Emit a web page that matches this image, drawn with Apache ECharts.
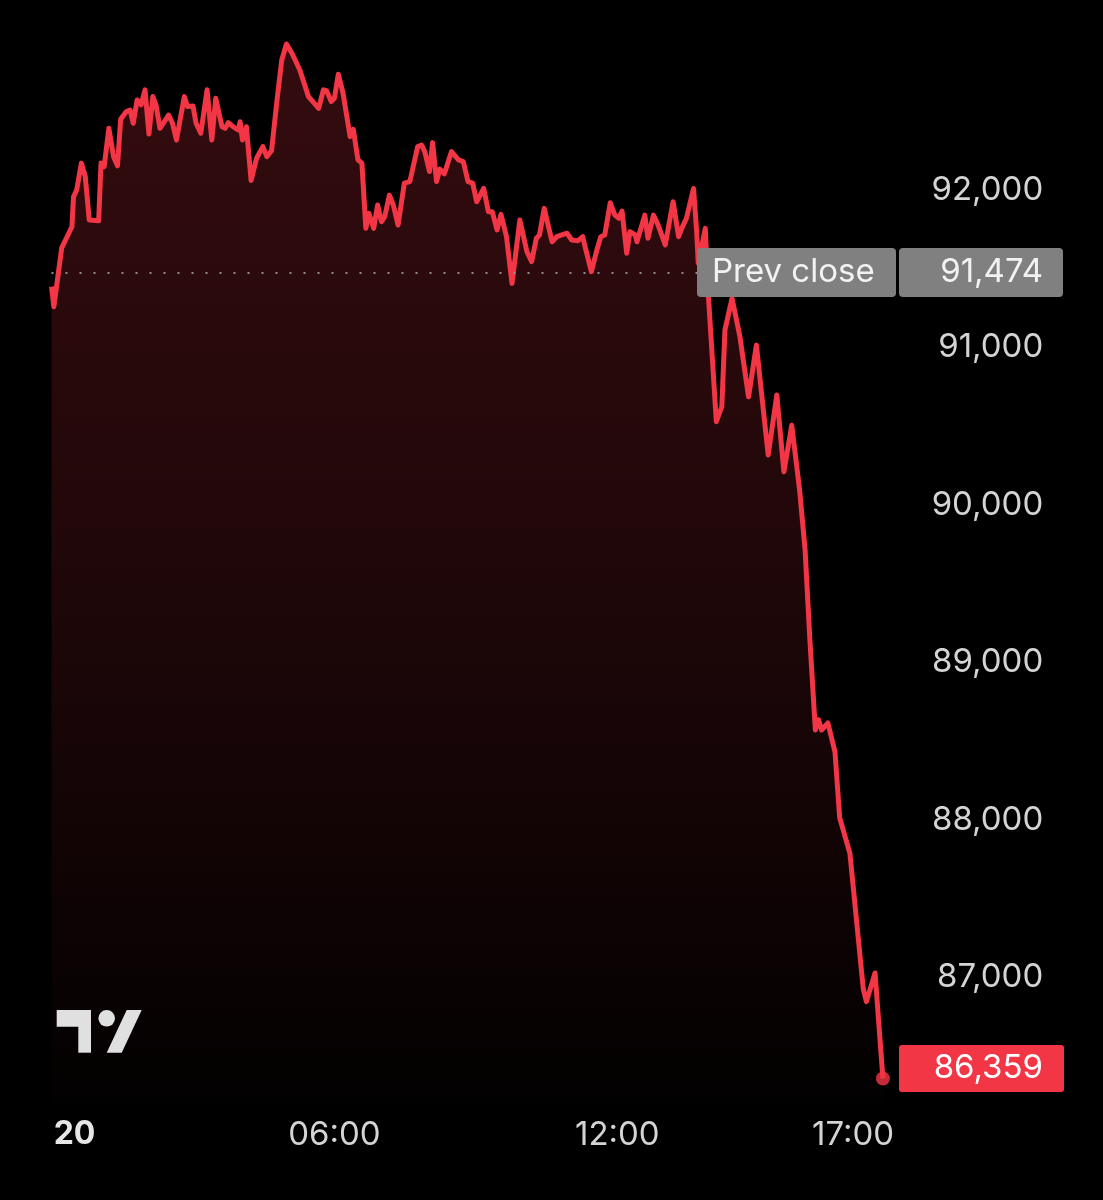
<!DOCTYPE html>
<html>
<head>
<meta charset="utf-8">
<script src="https://cdn.jsdelivr.net/npm/echarts@6/dist/echarts.min.js"></script>
<style>
html, body { margin: 0; background: #000; }
#chart { width: 1103px; height: 1200px; }
</style>
</head>
<body>
<div id="chart"></div>
<script>
// minutes after midnight (day 20) and price
var times = [
  0, 3, 13, 26, 28, 32, 38, 43, 48, 60, 63, 67, 73, 79, 84, 88, 95, 100, 104, 109,
  114, 119, 124, 129, 133, 138, 149, 154, 159, 169, 173, 180, 184, 190, 198, 204, 209, 217, 221, 225,
  231, 238, 240, 243, 248, 254, 261, 269, 274, 280, 287, 293, 299, 306, 316, 327, 340, 346, 350, 356,
  360, 365, 371, 380, 384, 390, 395, 400, 404, 410, 415, 420, 424, 430, 435, 441, 449, 456, 466, 471,
  475, 481, 485, 490, 494, 500, 509, 518, 524, 530, 536, 541, 550, 556, 561, 567, 572, 579, 586, 596,
  605, 611, 617, 621, 627, 637, 643, 656, 662, 670, 676, 680, 687, 694, 699, 704, 711, 717, 722, 726,
  732, 736, 743, 745, 755, 759, 766, 772, 781, 791, 798, 802, 808, 817, 821, 823, 832, 836, 846, 853,
  857, 866, 876, 887, 897, 912, 923, 932, 942, 952, 959, 965, 972, 976, 980, 988, 997, 1003, 1016, 1033,
  1037, 1048, 1058
];
var prices = [
  91384, 91257, 91630, 91764, 91954, 91997, 92168, 92083, 91807, 91802, 92168, 92146, 92389, 92209, 92151, 92446, 92494, 92505, 92421, 92569,
  92538, 92633, 92353, 92590, 92538, 92389, 92473, 92421, 92315, 92590, 92527, 92531, 92421, 92358, 92633, 92315, 92580, 92399, 92389, 92425,
  92399, 92378, 92431, 92315, 92399, 92058, 92199, 92273, 92209, 92247, 92569, 92822, 92924, 92865, 92759, 92590, 92516, 92633, 92628, 92559,
  92580, 92732, 92612, 92336, 92383, 92189, 92168, 91754, 91849, 91754, 91902, 91796, 91828, 91965, 91902, 91775, 92041, 92051, 92273, 92283,
  92241, 92115, 92298, 92051, 92130, 92100, 92241, 92189, 92178, 92051, 92041, 91923, 92007, 91859, 91859, 91744, 91843, 91701, 91405, 91807,
  91606, 91543, 91691, 91712, 91881, 91669, 91701, 91723, 91680, 91676, 91701, 91617, 91479, 91617, 91701, 91712, 91916, 91838, 91818, 91864,
  91596, 91733, 91712, 91669, 91838, 91691, 91838, 91775, 91649, 91923, 91701, 91754, 91818, 92007, 91733, 91533, 91754, 91320, 90527, 90622,
  91110, 91310, 91067, 90685, 91013, 90316, 90696, 90210, 90505, 90094, 89712, 89149, 88571, 88637, 88571, 88615, 88432, 88013, 87788, 86928,
  86847, 87029, 86359
];
var prevClose = 91474;
var priceTicks = [87000, 88000, 89000, 90000, 91000, 92000];
var timeTicks = [0, 360, 720, 1020];
var dayLabel = '20';
var prevCloseText = 'Prev close';

var RED = '#f23645';
var FONT = 'Inter, "Noto Sans", sans-serif';

function fmtPrice(v) {
  return Number(v).toLocaleString('en-US');
}
function fmtTime(v) {
  if (v === 0) return '{d|' + dayLabel + '}';
  var h = Math.floor(v / 60), m = v % 60;
  return (h < 10 ? '0' : '') + h + ':' + (m < 10 ? '0' : '') + m;
}

var chart = echarts.init(document.getElementById('chart'));

var option = {
  backgroundColor: '#000',
  animation: false,
  grid: {
    left: 51.5,
    right: 202.8,
    top: 32,
    bottom: 96.4,
    outerBoundsMode: 'none'
  },
  xAxis: {
    type: 'value',
    min: 0,
    max: 1080,
    axisLine: { show: false },
    axisTick: { show: false },
    splitLine: { show: false },
    axisLabel: {
      customValues: timeTicks,
      formatter: fmtTime,
      margin: 15,
      color: '#d4d4d4',
      fontSize: 33,
      fontFamily: FONT,
      rich: {
        d: {
          color: '#e6e6e6',
          fontSize: 32,
          fontWeight: 'bold',
          fontFamily: FONT,
          padding: [0, 0, 0, 46]
        }
      }
    }
  },
  yAxis: {
    type: 'value',
    position: 'right',
    min: 86200,
    max: 93000,
    axisLine: { show: false },
    axisTick: { show: false },
    splitLine: { show: false },
    axisLabel: {
      customValues: priceTicks,
      formatter: fmtPrice,
      align: 'right',
      margin: 143,
      padding: [0, 0, 7, 0],
      color: '#d4d4d4',
      fontSize: 33,
      fontFamily: FONT
    }
  },
  series: [
    {
      type: 'line',
      data: times.map(function (t, i) { return [t, prices[i]]; }),
      showSymbol: false,
      lineStyle: { color: RED, width: 5, join: 'round' },
      areaStyle: {
        origin: 'start',
        color: new echarts.graphic.LinearGradient(0, 0, 0, 1, [
          { offset: 0, color: 'rgba(242,54,69,0.31)' },
          { offset: 0.45, color: 'rgba(242,54,69,0.2)' },
          { offset: 0.76, color: 'rgba(242,54,69,0.1)' },
          { offset: 1, color: 'rgba(242,54,69,0.01)' }
        ])
      },
      markLine: {
        silent: true,
        symbol: 'none',
        label: { show: false },
        lineStyle: { color: '#8c8c8c', width: 2, type: [2, 12] },
        data: [{ yAxis: prevClose }]
      },
      z: 3
    },
    {
      type: 'scatter',
      data: [[times[times.length - 1], prices[prices.length - 1]]],
      symbolSize: 14,
      itemStyle: { color: RED },
      z: 4
    }
  ]
};
chart.setOption(option);

// labels on the right, positioned through the y axis scale
var yPrev = chart.convertToPixel({ yAxisIndex: 0 }, prevClose);
var yLast = chart.convertToPixel({ yAxisIndex: 0 }, prices[prices.length - 1]);
var yLastBox = yLast - 10;
var logoColor = '#e0e0e0';

chart.setOption({
  graphic: [
    { type: 'rect', z: 100, shape: { x: 697, y: yPrev - 24.5, width: 199, height: 49, r: 4 }, style: { fill: '#808080' } },
    { type: 'text', z: 101, style: { x: 712, y: yPrev, text: prevCloseText, fill: '#f2f2f2', fontSize: 33, fontFamily: FONT, textVerticalAlign: 'middle', textAlign: 'left' } },
    { type: 'rect', z: 100, shape: { x: 899, y: yPrev - 24.5, width: 164, height: 49, r: 4 }, style: { fill: '#808080' } },
    { type: 'text', z: 101, style: { x: 1043, y: yPrev, text: fmtPrice(prevClose), fill: '#f2f2f2', fontSize: 33, fontFamily: FONT, textVerticalAlign: 'middle', textAlign: 'right' } },
    { type: 'rect', z: 100, shape: { x: 899, y: yLastBox - 23.5, width: 165, height: 47, r: 3 }, style: { fill: RED } },
    { type: 'text', z: 101, style: { x: 1043, y: yLastBox, text: fmtPrice(prices[prices.length - 1]), fill: '#ffffff', fontSize: 33, fontFamily: FONT, textVerticalAlign: 'middle', textAlign: 'right' } },
    // TradingView mark
    { type: 'rect', z: 100, shape: { x: 56.7, y: 1010, width: 34.3, height: 16.7 }, style: { fill: logoColor } },
    { type: 'rect', z: 100, shape: { x: 78.3, y: 1010, width: 12.7, height: 42.7 }, style: { fill: logoColor } },
    { type: 'circle', z: 100, shape: { cx: 106.7, cy: 1018.3, r: 8.3 }, style: { fill: logoColor } },
    { type: 'polygon', z: 100, shape: { points: [[126.7, 1010], [141.7, 1010], [121.7, 1052.7], [106.7, 1052.7]] }, style: { fill: logoColor } }
  ]
});
</script>
</body>
</html>
